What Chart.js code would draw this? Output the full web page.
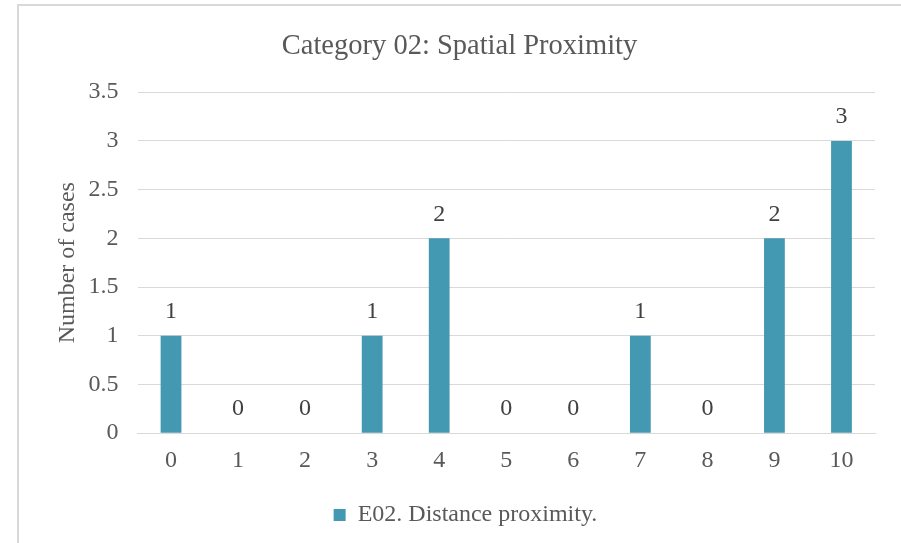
<!DOCTYPE html>
<html><head><meta charset="utf-8">
<script src="https://cdn.jsdelivr.net/npm/chart.js@4/dist/chart.umd.min.js"></script>
<style>
html,body{margin:0;padding:0;width:901px;height:543px;overflow:hidden;background:#fff;}
#frame{position:absolute;left:17px;top:4px;width:900px;height:560px;border-top:2px solid #d9d9d9;border-left:2px solid #d9d9d9;}
#wrap{position:absolute;left:18px;top:5px;width:894px;height:538px;}
</style></head><body>
<div id="frame"></div>
<div id="wrap"><canvas id="c"></canvas></div>
<script>
const categories = ['0','1','2','3','4','5','6','7','8','9','10'];
const values = [1,0,0,1,2,0,0,1,0,2,3];
const seriesName = 'E02. Distance proximity.';
const titleText = 'Category 02: Spatial Proximity';
const yTitle = 'Number of cases';

const FONT = "'Liberation Serif', 'Times New Roman', serif";
const labelPlugin = {
  id: 'valueLabels',
  afterLayout(chart) {
    if (chart.legend) { chart.legend.left += 19; chart.legend.right += 19; }
    if (chart.titleBlock) { chart.titleBlock.left += 13; chart.titleBlock.right += 13; }
  },
  afterDatasetsDraw(chart) {
    const ctx = chart.ctx;
    const meta = chart.getDatasetMeta(0);
    ctx.save();
    ctx.font = "24px " + FONT;
    ctx.fillStyle = '#404040';
    ctx.textAlign = 'center';
    ctx.textBaseline = 'middle';
    meta.data.forEach((bar, i) => {
      ctx.fillText(String(values[i]), bar.x, bar.y - 24);
    });
    ctx.restore();
  }
};

new Chart(document.getElementById('c'), {
  type: 'bar',
  data: {
    labels: categories,
    datasets: [{
      label: seriesName,
      data: values,
      backgroundColor: '#4399b1',
      borderWidth: 0,
      categoryPercentage: 1,
      barPercentage: 0.31
    }]
  },
  options: {
    responsive: true,
    maintainAspectRatio: false,
    animation: false,
    devicePixelRatio: 1,
    layout: { padding: { left: 0, right: 37, top: 0, bottom: 6 } },
    plugins: {
      title: {
        display: true, text: titleText, color: '#595959',
        font: { family: FONT, size: 28.5, weight: 'normal' },
        padding: { top: 24, bottom: 29 }
      },
      legend: {
        display: true, position: 'bottom',
        labels: {
          color: '#595959', font: { family: FONT, size: 24 },
          boxWidth: 12, boxHeight: 12, padding: 10
        }
      },
      tooltip: { enabled: false }
    },
    scales: {
      x: {
        afterFit(scale) { scale.height += 5; },
        grid: { display: false, drawTicks: false },
        border: { display: true, color: '#d9d9d9', width: 1 },
        ticks: { color: '#595959', font: { family: FONT, size: 24 }, padding: 13 }
      },
      y: {
        min: 0, max: 3.5,
        afterFit(scale) { scale.width = 119.5; },
        grid: { color: '#d9d9d9', drawTicks: false },
        border: { display: false },
        ticks: {
          stepSize: 0.5, color: '#595959', font: { family: FONT, size: 24 }, padding: 19,
          callback: (v) => String(v)
        },
        title: {
          display: true, text: yTitle, color: '#595959',
          font: { family: FONT, size: 24 }, padding: { top: 35, bottom: 0 }
        }
      }
    }
  },
  plugins: [labelPlugin]
});
</script>
</body></html>
